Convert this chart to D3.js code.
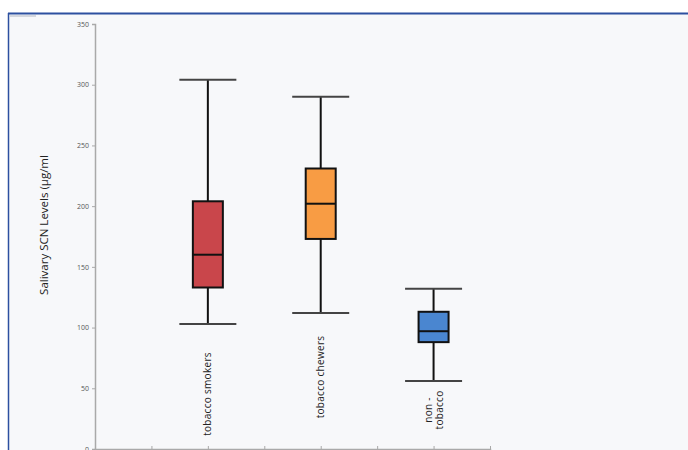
<!DOCTYPE html>
<html>
<head>
<meta charset="utf-8">
<script src="https://cdn.jsdelivr.net/npm/d3@7"></script>
<style>
  html, body { margin: 0; padding: 0; background: #ffffff; }
  svg { display: block; }
</style>
</head>
<body>
<svg id="chart" width="688" height="450"></svg>
<script>
// Salivary thiocyanate (SCN) levels by group
const categories = ["tobacco smokers", "tobacco chewers", "non -\ntobacco"];
const whiskerLow  = [103, 112, 56];
const q1          = [133, 173, 88];
const median      = [160, 202, 97];
const q3          = [204, 231, 113];
const whiskerHigh = [304, 290, 132];
const yTicks = [0, 50, 100, 150, 200, 250, 300, 350];

const fills = ["#c9464b", "#f89c44", "#4a86d0"];
const slotOf = [2, 4, 6];           // position of each group on the 0..7 x grid
const labelCenter = [394, 377, 410]; // vertical centre of each rotated label

const svg = d3.select("#chart");
const W = 688, H = 450;

// frame
svg.append("rect").attr("x", 0).attr("y", 0).attr("width", W).attr("height", H).attr("fill", "#ffffff");
svg.append("rect").attr("x", 9).attr("y", 14).attr("width", W - 9).attr("height", H - 14).attr("fill", "#f7f8fa");
svg.append("line").attr("x1", 8).attr("x2", W).attr("y1", 13.5).attr("y2", 13.5).attr("stroke", "#2d50a0").attr("stroke-width", 2);
svg.append("line").attr("x1", 8.5).attr("x2", 8.5).attr("y1", 13).attr("y2", H).attr("stroke", "#2d50a0").attr("stroke-width", 1.5);
svg.append("line").attr("x1", 10).attr("x2", 36).attr("y1", 16).attr("y2", 16).attr("stroke", "#c8ccd4").attr("stroke-width", 1.5);

const y = d3.scaleLinear().domain([0, 350]).range([449, 24]);
const x = d3.scaleLinear().domain([0, 7]).range([95, 490]);

// y axis
const yAxis = svg.append("g").attr("transform", "translate(95,0)")
  .call(d3.axisLeft(y).tickValues(yTicks).tickSize(3).tickPadding(3));
yAxis.select(".domain").attr("stroke", "#a9a9a9").attr("stroke-width", 1.5);
yAxis.selectAll(".tick line").attr("stroke", "#a9a9a9");
yAxis.selectAll(".tick text").attr("fill", "#555").attr("font-size", 7)
  .attr("font-family", "'Open Sans', sans-serif");

// x axis (unlabelled grid ticks)
const xAxis = svg.append("g").attr("transform", "translate(0,449)")
  .call(d3.axisBottom(x).tickValues(d3.range(0, 8)).tickSize(3).tickFormat(""));
xAxis.select(".domain").attr("stroke", "#a9a9a9").attr("stroke-width", 1.5);
xAxis.selectAll(".tick line").attr("stroke", "#a9a9a9").attr("transform", "translate(0,-3)");

// y axis title
svg.append("text")
  .attr("transform", "translate(48,225) rotate(-90)")
  .attr("text-anchor", "middle")
  .attr("font-family", "'Open Sans', sans-serif")
  .attr("font-size", 11.5)
  .attr("fill", "#222")
  .text("Salivary SCN Levels  (µg/ml");

const boxW = 30, capW = 57;
const groups = svg.append("g").selectAll("g").data(categories).join("g");

groups.each(function(cat, i) {
  const g = d3.select(this);
  const cx = x(slotOf[i]);
  // whisker stem
  g.append("line").attr("x1", cx).attr("x2", cx)
    .attr("y1", y(whiskerHigh[i])).attr("y2", y(whiskerLow[i]))
    .attr("stroke", "#111").attr("stroke-width", 2);
  // caps
  [whiskerHigh[i], whiskerLow[i]].forEach(v => {
    g.append("line").attr("x1", cx - capW / 2).attr("x2", cx + capW / 2)
      .attr("y1", y(v)).attr("y2", y(v))
      .attr("stroke", "#444").attr("stroke-width", 2);
  });
  // box
  g.append("rect").attr("x", cx - boxW / 2).attr("width", boxW)
    .attr("y", y(q3[i])).attr("height", y(q1[i]) - y(q3[i]))
    .attr("fill", fills[i]).attr("stroke", "#111").attr("stroke-width", 2);
  // median
  g.append("line").attr("x1", cx - boxW / 2).attr("x2", cx + boxW / 2)
    .attr("y1", y(median[i])).attr("y2", y(median[i]))
    .attr("stroke", "#111").attr("stroke-width", 2);
  // category label, rotated
  const lines = cat.split("\n");
  const t = g.append("text")
    .attr("transform", `translate(${cx},${labelCenter[i]}) rotate(-90)`)
    .attr("text-anchor", "middle")
    .attr("font-family", "'Open Sans', sans-serif")
    .attr("font-size", 10)
    .attr("letter-spacing", 0.3)
    .attr("fill", "#222");
  lines.forEach((ln, k) => {
    t.append("tspan").attr("x", 0)
      .attr("dy", k === 0 ? (lines.length > 1 ? -2 : 3) : 11)
      .text(ln);
  });
});
</script>
</body>
</html>
